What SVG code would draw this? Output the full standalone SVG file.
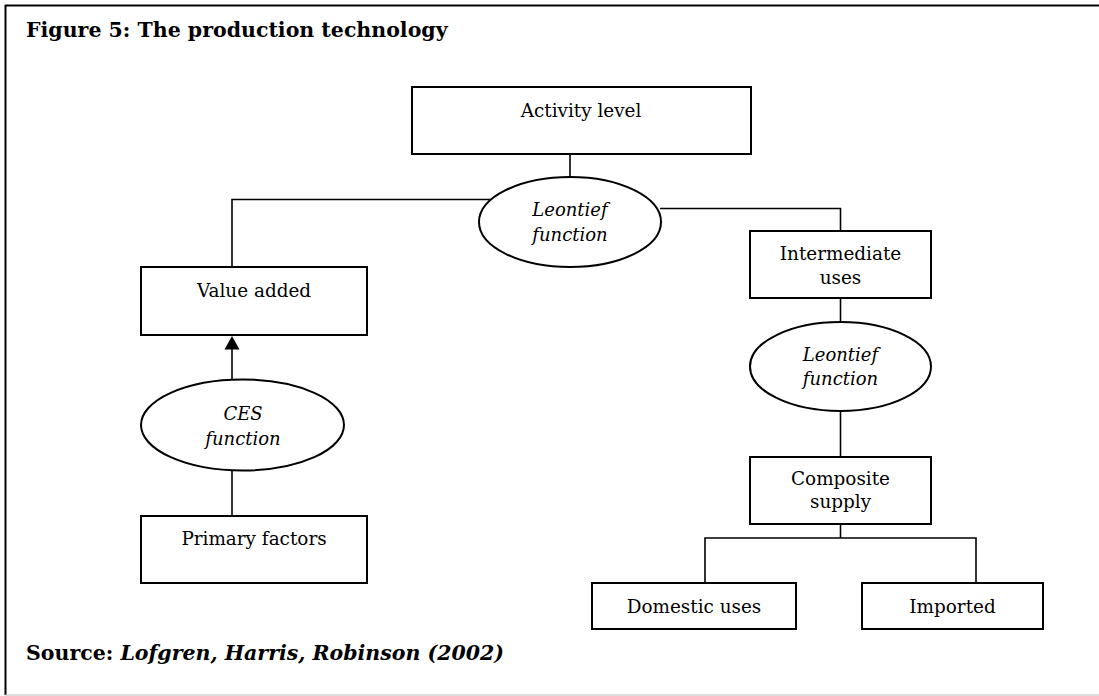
<svg xmlns="http://www.w3.org/2000/svg" width="1099" height="696" viewBox="0 0 1099 696">
<style>
text{font-family:"DejaVu Serif","Liberation Serif",serif;font-size:18.4px;fill:#000;text-anchor:middle}
.it{font-style:italic;font-size:18px}
.title{font-weight:bold;text-anchor:start;font-size:20.5px}
.box{fill:#fff;stroke:#000;stroke-width:2}
.ell{fill:#fff;stroke:#000;stroke-width:2}
.con line,.con polyline{fill:none;stroke:#000;stroke-width:1.6}
</style>
<rect x="0" y="0" width="1099" height="696" fill="#fff"/>
<line x1="5" y1="5.5" x2="1099" y2="5.5" stroke="#000" stroke-width="2"/>
<line x1="5.5" y1="5" x2="5.5" y2="695" stroke="#000" stroke-width="2"/>
<line x1="5" y1="695" x2="1099" y2="695" stroke="#bbb" stroke-width="1"/>
<text class="title" x="26" y="37">Figure 5: The production technology</text>

<g class="con" id="connectors">
<line x1="570" y1="154" x2="570" y2="177"/>
<polyline points="503,199.5 232,199.5 232,267"/>
<polyline points="660,208.5 840.5,208.5 840.5,231"/>
<line x1="840.5" y1="298" x2="840.5" y2="322"/>
<line x1="840.5" y1="411" x2="840.5" y2="457"/>
<line x1="840.5" y1="524" x2="840.5" y2="538"/>
<polyline points="705,583 705,538 976,538 976,583"/>
<line x1="232" y1="349" x2="232" y2="380"/>
<polygon points="232,336 224.5,349.5 239.5,349.5" fill="#000" stroke="none"/>
<line x1="232" y1="470" x2="232" y2="516"/>
</g>

<g id="activity"><rect class="box" x="412" y="87" width="339" height="67"/><text x="581" y="117">Activity level</text></g>
<g id="leontief1"><ellipse class="ell" cx="570" cy="222" rx="91" ry="45"/><text class="it" x="570" y="216">Leontief</text><text class="it" x="570" y="241">function</text></g>
<g id="valueadded"><rect class="box" x="141" y="267" width="226" height="68"/><text x="254" y="297">Value added</text></g>
<g id="intermediate"><rect class="box" x="750" y="231" width="181" height="67"/><text x="840.5" y="260">Intermediate</text><text x="840.5" y="284">uses</text></g>
<g id="ces"><ellipse class="ell" cx="242.5" cy="425" rx="101.5" ry="45.5"/><text class="it" x="243" y="420">CES</text><text class="it" x="243" y="445">function</text></g>
<g id="leontief2"><ellipse class="ell" cx="840.5" cy="366.5" rx="90.5" ry="44.5"/><text class="it" x="840.5" y="361">Leontief</text><text class="it" x="840.5" y="385">function</text></g>
<g id="primary"><rect class="box" x="141" y="516" width="226" height="67"/><text x="254" y="545">Primary factors</text></g>
<g id="composite"><rect class="box" x="750" y="457" width="181" height="67"/><text x="840.5" y="485">Composite</text><text x="840.5" y="508">supply</text></g>
<g id="domestic"><rect class="box" x="592" y="583" width="204" height="46"/><text x="694" y="613">Domestic uses</text></g>
<g id="imported"><rect class="box" x="862" y="583" width="181" height="46"/><text x="952.5" y="613">Imported</text></g>

<text class="title" x="26" y="660">Source: <tspan font-style="italic">Lofgren, Harris, Robinson (2002)</tspan></text>
</svg>
